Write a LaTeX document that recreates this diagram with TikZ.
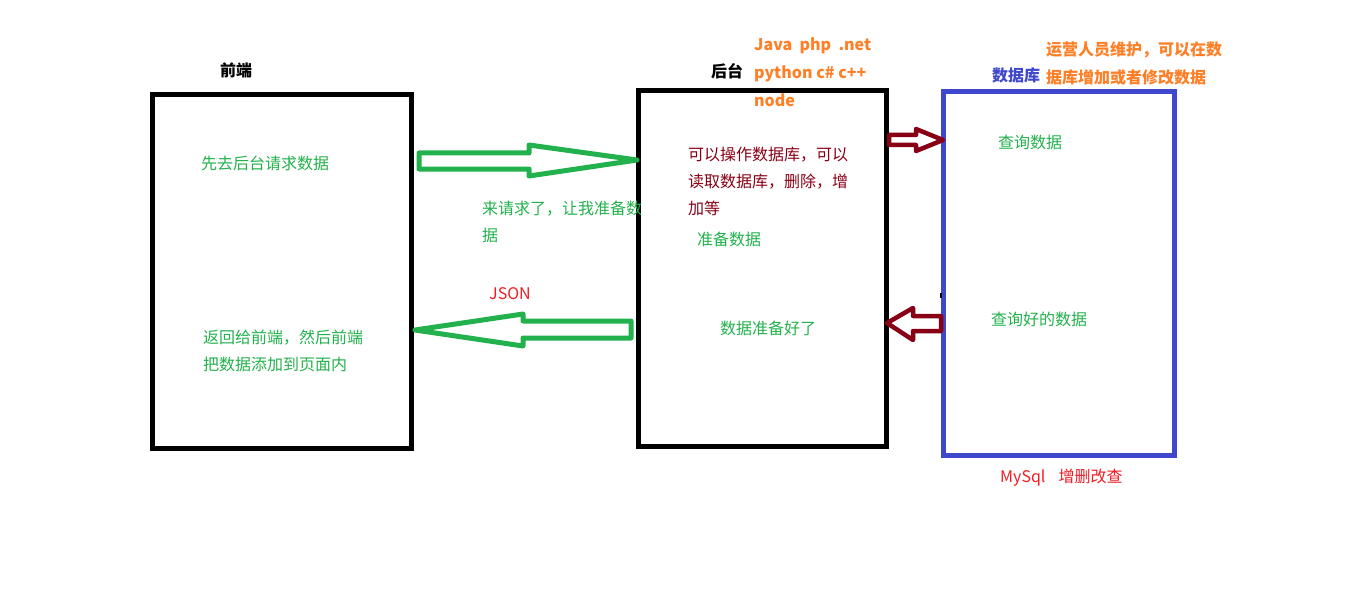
\documentclass[tikz,border=0pt]{standalone}
\usepackage{fontspec}
\setmainfont{Noto Sans CJK SC}
\definecolor{cgreen}{HTML}{22B14C}
\definecolor{cdred}{HTML}{880015}
\definecolor{cblue}{HTML}{3F48CC}
\definecolor{corange}{HTML}{FF7F27}
\definecolor{cred}{HTML}{ED1C24}
\begin{document}
\begin{tikzpicture}[x=1pt,y=-1pt,
  txt/.style={anchor=west,inner sep=0pt,align=left,font=\fontsize{16pt}{27pt}\selectfont},
  btxt/.style={anchor=west,inner sep=0pt,align=left,font=\fontsize{16pt}{28pt}\selectfont\bfseries},
  box/.style={draw,line width=5pt,inner sep=0pt},
  garrow/.style={draw=cgreen,line width=5pt,line join=round},
  rarrow/.style={draw=cdred,line width=4.5pt,line join=round}]
\useasboundingbox (0,0) rectangle (1360,591);
% boxes
\node[box,minimum width=259pt,minimum height=354pt] (front) at (282,271.5) {};
\node[box,minimum width=248pt,minimum height=355.5pt] (back) at (762.5,268.25) {};
\node[box,draw=cblue,minimum width=231pt,minimum height=363.5pt] (db) at (1059,273.25) {};
\fill (940,293) rectangle (942,298);
% arrows
\draw[garrow] (419,153) -- (529,153) -- (529,145) -- (637,160) -- (529,176) -- (529,169) -- (419,169) -- cycle;
\draw[garrow] (415,330) -- (523,314) -- (523,321) -- (631,321) -- (631,338) -- (523,338) -- (523,346) -- cycle;
\draw[rarrow] (889,135) -- (916,135) -- (916,129) -- (943,140) -- (916,151) -- (916,145) -- (889,145) -- cycle;
\draw[rarrow] (887,323) -- (913,308) -- (913,316) -- (941,316) -- (941,331) -- (913,331) -- (913,340) -- cycle;
% titles
\node[btxt] (tfront) at (220,70) {前端};
\node[btxt] (tback) at (711,71) {后台};
\node[btxt,text=cblue] (tdb) at (992,75) {数据库};
\node[btxt,text=corange] (langs) at (754,72) {Java\ \ php\ \ .net\\python c\# c++\\node};
\node[btxt,text=corange] (ops) at (1046,63) {运营人员维护，可以在数\\据库增加或者修改数据};
% texts
\node[txt,text=cgreen] (t1) at (201,163) {先去后台请求数据};
\node[txt,text=cgreen] (t2) at (482,221.5) {来请求了，让我准备数\\据};
\node[txt,text=cred] (t3) at (489,294) {JSON};
\node[txt,text=cgreen] (t4) at (203,350.5) {返回给前端，然后前端\\把数据添加到页面内};
\node[txt,text=cdred] (t5) at (688,181) {可以操作数据库，可以\\读取数据库，删除，增\\加等};
\node[txt,text=cgreen] (t6) at (697,239) {准备数据};
\node[txt,text=cgreen] (t7) at (720,328) {数据准备好了};
\node[txt,text=cgreen] (t8) at (998,142) {查询数据};
\node[txt,text=cgreen] (t9) at (991,319) {查询好的数据};
\node[txt,text=cred] (t10) at (1000,478) {MySql\hspace{13pt}增删改查};
\end{tikzpicture}
\end{document}
